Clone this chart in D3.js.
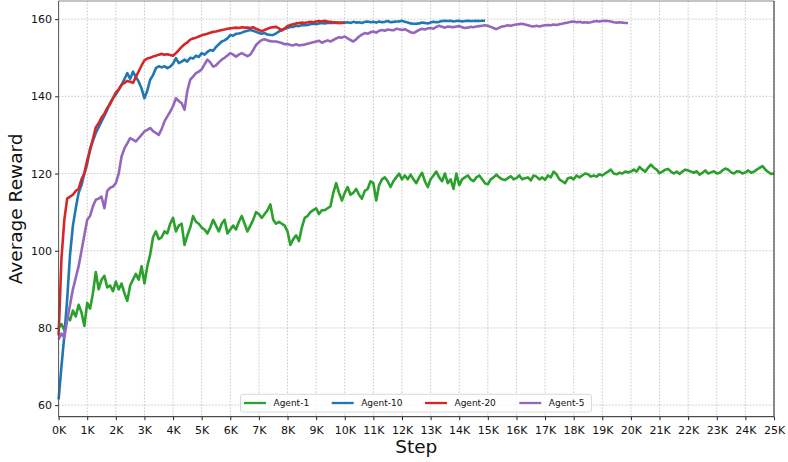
<!DOCTYPE html>
<html>
<head>
<meta charset="utf-8">
<script src="https://cdn.jsdelivr.net/npm/d3@7"></script>
<style>
  body { margin: 0; background: #fff; }
  text { font-family: "DejaVu Sans", sans-serif; }
</style>
</head>
<body>
<svg id="chart" width="788" height="462"></svg>
<script>
// data (one value every 100 steps)
const STEP = 100;
const agent1 = [80,81,79.5,83,82,84.5,83,86,84,80.5,86.5,85,89,94.5,90,92.5,93.5,90.5,91,89.5,
  92,90,91.5,89,87,91,92.5,94,92.5,96,91.5,96,99,103.5,105,103,103.5,105,104.5,107,
  108.5,105,106.5,107,101.5,104,106,109,107.5,107,106,105.5,104.5,106,108,106.5,105,107,108,104.5,
  105.5,106.5,105.5,107.5,109,107,105,106.5,108,110,109.5,108.5,109.5,110.5,112,108,107,107.5,107,106.5,
  105,101.5,103,104,102.5,106,108.5,109,110,110.5,111,109.5,110.5,110.5,111,111.5,115,117.5,115,113,
  115,116.5,114.5,115,116,114.5,113.5,115.5,116,118,117.5,113,117,118.5,119,118,116.5,118,119,120,
  118.5,119.5,118.5,119.7,118.5,117.5,119,120.2,118,116.5,118.5,119.5,120.5,119,118,120,117.5,118.5,116,120,
  117,118.5,119,119.5,118.5,118,119,119.5,118.5,117.5,117.2,118.5,119,119.7,119,118.5,118.3,118.8,119.3,118.5,
  118.8,119.5,118.5,118.8,119,118.2,119.5,119.2,118.5,119,118.4,119.5,119,120.5,119.8,118.5,118,117.5,118.8,119,
  118.5,119.5,119,119.5,120,119.8,119.2,119.5,119.2,119.8,119.5,120,120.5,121,120,119.8,120.2,120,120.5,120.3,
  120.5,121,120.5,121.7,121,120.5,121.5,122.3,121.5,121,120.1,120.5,121,121.2,120.5,120,120.5,119.9,120.5,121,
  120.8,120.5,120.2,120.6,119.7,120.2,120.8,120,120.3,120.6,120,120.2,120.8,121.3,121,120.3,120,120.6,120.5,120,
  120.3,120.8,120.2,120.5,121,121.5,121.9,121,120.4,119.9,120];
const agent10 = [61.5,70,78,87.5,99,106.5,111,115,117,120,122.5,126.5,128.5,130.5,132,133.5,135,136.5,138.3,139.5,
  140.5,141.7,143,144.5,146,144.5,146.4,145,143.8,142,139.5,141.5,144.3,145.5,147.3,147.8,147.5,147.8,147.3,147.7,
  148.5,149.9,148.6,149,149.5,149,150,149.8,150.5,150.2,151.2,150.8,151.5,152,151.8,152.8,153.5,154.2,154.5,155,
  155.9,155.7,156.2,156.3,156.5,156.8,157,157.2,157,156.7,156.4,156.2,156.4,156,155.9,155.9,156.3,156.8,157.2,157.5,
  157.7,158,158,158.3,158.2,158.5,158.4,158.5,158.7,158.8,158.7,158.9,159,158.9,159,159.1,159,159.2,159,159.1,
  159.1,159.2,159,159.3,159.1,159.2,159,159.3,159.4,159.2,159.3,159.1,159.4,159.2,159.3,159.5,159.2,159.3,159.4,159.4,
  159.6,159.3,159.1,158.9,158.8,158.8,158.9,159.1,159,158.9,159.1,159.3,159.2,159.3,159.5,159.6,159.5,159.6,159.4,159.5,
  159.6,159.4,159.5,159.6,159.5,159.5,159.6,159.5,159.6,159.6];
const agent20 = [78,98,108,113.5,114,114.5,115.5,116,118.5,120,123.5,126,129,132,133,134.5,135.5,137,138,139.5,
  141,141.8,143,143.5,144,143.8,143.5,145,146.5,148,149.3,149.8,150,150.3,150.5,150.8,151,150.8,150.9,150.7,
  150.5,151.2,152,152.8,153.5,154,154.7,155,155.2,155.5,155.8,156,156.2,156.5,156.7,156.8,157,157.2,157.3,157.5,
  157.6,157.7,157.8,157.7,157.9,157.8,157.8,157.7,157.9,157.5,157.2,156.9,157.2,157.5,157.8,157.9,158,157.6,157.1,157.6,
  158.2,158.5,158.7,158.9,159,159.1,159,159.2,159.3,159.2,159.4,159.5,159.4,159.6,159.4,159.3,159.2,159,159.1,159,
  159.1];
const agent5 = [77,78.5,77.5,82,86,90,93,96,100,104,108,109,111.5,113.2,113.5,114,111,115.5,116.3,116.6,
  117.5,120,124.4,126.5,127.8,129.2,128.8,128.3,129.2,130,130.9,131.3,131.8,131,130.5,130,131.5,133.5,134.8,136,
  137.5,139.5,138.8,138.2,136.5,141.5,144.3,145.1,146,146.4,147,148.3,149.5,148.8,147.7,148,148.8,149.5,150,150.6,
  151.2,150.8,150.3,150.8,151.2,150.8,150.4,150.8,152,153.3,154,154.6,154.8,154.5,154.3,154.2,154.2,154,153.8,153.5,
  153.6,153.3,153.2,153.5,153.2,153.3,153.4,153.6,153.8,154,154.2,154.4,153.9,154.2,154.5,154.2,154.6,155,155.3,155.2,
  155.5,155,154.6,154.2,154.8,155.5,156,156.4,156.2,156.6,156.8,156.5,157,157.2,157,157.3,157.2,157.1,157.5,157.4,
  157.2,157.4,157,156.6,156.4,156.8,157.2,157.5,157.3,157.6,157.7,157.5,158,158.3,158,157.8,158.1,158,157.9,158.1,
  158.2,157.9,157.7,157.8,158,157.9,158.1,158.2,158.3,158.4,158.3,158,157.7,157.4,157.8,158.1,158.2,158.4,158.3,158.5,
  158.6,158.7,158.8,158.6,158.4,158.2,158.1,158.3,158.1,158.3,158.4,158.5,158.4,158.6,158.5,158.7,158.8,159,159.1,159.3,
  159.4,159.2,159.3,159.1,159.2,159.1,159.2,159.4,159.5,159.4,159.5,159.6,159.5,159.4,159.2,159.1,159.2,159.1,159,159];

const seriesNames = ["Agent-1", "Agent-10", "Agent-20", "Agent-5"];
const seriesValues = [agent1, agent10, agent20, agent5];
const seriesColors = ["#2ca02c", "#1f77b4", "#d62728", "#9467bd"];
const xTicks = d3.range(0, 25001, 1000);
const yTicks = [60, 80, 100, 120, 140, 160];

const svg = d3.select("#chart");
const plotLeft = 58.6, plotRight = 774, plotTop = 1, plotBottom = 416.7;

const x = d3.scaleLinear().domain([0, 25000]).range([plotLeft, plotRight]);
const y = d3.scaleLinear().domain([57, 164.7]).range([plotBottom, plotTop]);

// grid
const grid = svg.append("g")
  .attr("stroke", "#bcbcbc")
  .attr("stroke-width", 0.8)
  .attr("stroke-dasharray", "1.6,1.6");
grid.selectAll(".gx").data(xTicks).enter().append("line")
  .attr("x1", d => x(d)).attr("x2", d => x(d))
  .attr("y1", plotTop).attr("y2", plotBottom);
grid.selectAll(".gy").data(yTicks).enter().append("line")
  .attr("x1", plotLeft).attr("x2", plotRight)
  .attr("y1", d => y(d)).attr("y2", d => y(d));

// lines
const line = d3.line()
  .x((d, i) => x(i * STEP))
  .y(d => y(d));

svg.append("g").selectAll("path")
  .data(seriesValues)
  .enter()
  .append("path")
  .attr("d", d => line(d))
  .attr("fill", "none")
  .attr("stroke", (d, i) => seriesColors[i])
  .attr("stroke-width", 2.6)
  .attr("stroke-linejoin", "round");

// axes
const xAxis = svg.append("g")
  .attr("transform", "translate(0," + plotBottom + ")")
  .call(d3.axisBottom(x).tickValues(xTicks).tickFormat(d => (d / 1000) + "K").tickSizeOuter(0).tickSize(3.5));
const yAxis = svg.append("g")
  .attr("transform", "translate(" + plotLeft + ",0)")
  .call(d3.axisLeft(y).tickValues(yTicks).tickSizeOuter(0).tickSize(3.5));

[xAxis, yAxis].forEach(a => {
  a.select(".domain").remove();
  a.selectAll("text").attr("font-size", 11).attr("fill", "#111")
    .attr("font-family", "DejaVu Sans, sans-serif");
  a.selectAll("line").attr("stroke", "#222");
});
xAxis.selectAll("text").attr("dy", "0.95em");

// frame
svg.append("line").attr("x1", plotLeft).attr("x2", plotRight).attr("y1", plotTop).attr("y2", plotTop)
  .attr("stroke", "#888").attr("stroke-width", 1);
svg.append("line").attr("x1", plotLeft).attr("x2", plotLeft).attr("y1", plotTop).attr("y2", plotBottom)
  .attr("stroke", "#555").attr("stroke-width", 1);
svg.append("line").attr("x1", plotLeft).attr("x2", plotRight).attr("y1", plotBottom).attr("y2", plotBottom)
  .attr("stroke", "#222").attr("stroke-width", 1);
svg.append("line").attr("x1", plotRight).attr("x2", plotRight).attr("y1", plotTop).attr("y2", plotBottom)
  .attr("stroke", "#222").attr("stroke-width", 1);

// axis titles
svg.append("text")
  .attr("x", (plotLeft + plotRight) / 2).attr("y", 453)
  .attr("text-anchor", "middle").attr("font-size", 18.5).attr("fill", "#111")
  .text("Step");
svg.append("text")
  .attr("transform", "translate(21.5," + ((plotTop + plotBottom) / 2) + ") rotate(-90)")
  .attr("text-anchor", "middle").attr("font-size", 18.5).attr("fill", "#111")
  .text("Average Reward");

// legend
const legendX = [244, 331.7, 425, 519.3];
const legend = svg.append("g");
legend.append("rect")
  .attr("x", 240.5).attr("y", 394.3).attr("width", 351).attr("height", 17.7)
  .attr("rx", 2).attr("fill", "#fff").attr("fill-opacity", 0.8)
  .attr("stroke", "#d0d0d0").attr("stroke-width", 0.8);
const items = legend.selectAll(".item")
  .data(seriesNames)
  .enter()
  .append("g")
  .attr("transform", (d, i) => "translate(" + legendX[i] + ",403)");
items.append("line")
  .attr("x1", 0).attr("x2", 22)
  .attr("stroke", (d, i) => seriesColors[i]).attr("stroke-width", 2.3);
items.append("text")
  .attr("x", 29.5).attr("dy", "0.35em")
  .attr("font-size", 9).attr("fill", "#111")
  .text(d => d);
</script>
</body>
</html>
